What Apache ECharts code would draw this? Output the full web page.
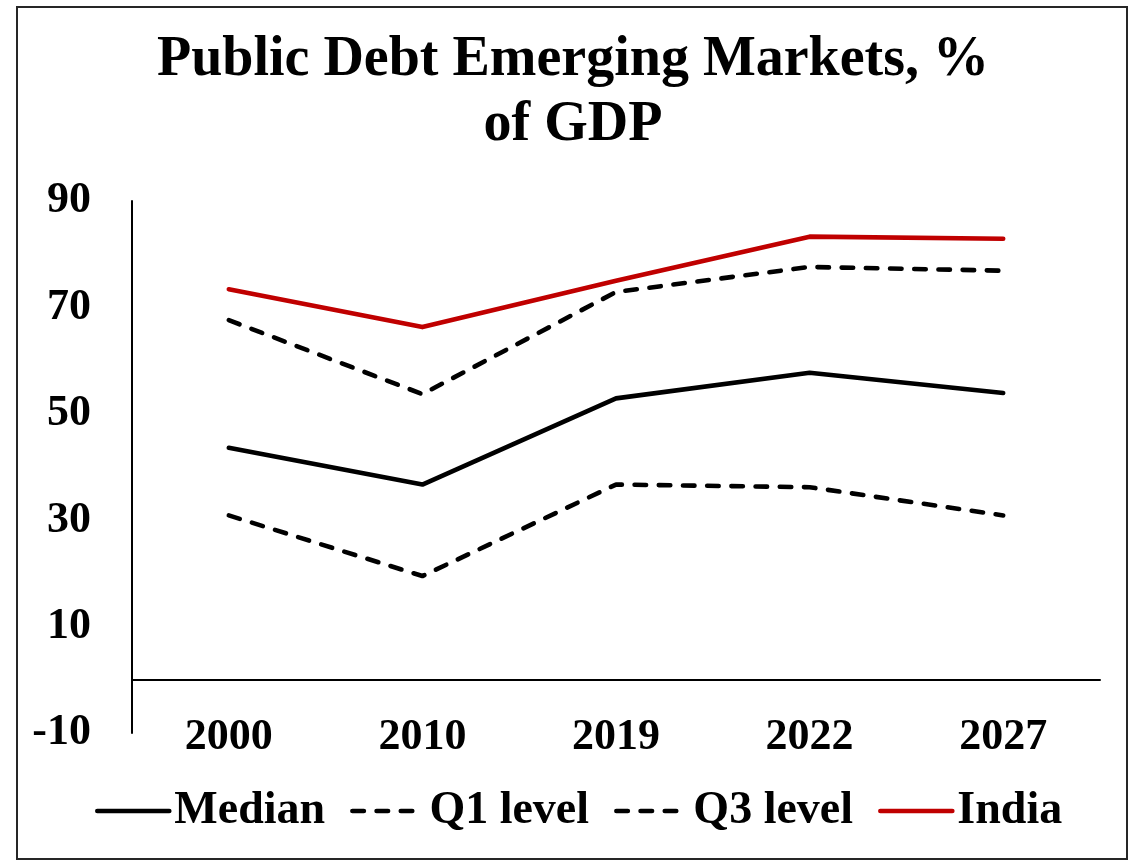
<!DOCTYPE html>
<html>
<head>
<meta charset="utf-8">
<script src="https://cdn.jsdelivr.net/npm/echarts@6/dist/echarts.min.js"></script>
<style>
  html, body { margin: 0; padding: 0; background: #ffffff; }
  #chart { width: 1137px; height: 861px; }
</style>
</head>
<body>
<div id="chart"></div>
<script>
// Public debt of emerging markets, % of GDP
const years = ['2000', '2010', '2019', '2022', '2027'];
const median = [43.6, 36.7, 52.9, 57.7, 53.9];
const q1Level = [30.9, 19.5, 36.7, 36.2, 30.9];
const q3Level = [67.6, 53.7, 72.9, 77.6, 76.9];
const india = [73.4, 66.3, 75.0, 83.3, 82.9];

const serif = '"Liberation Serif", "DejaVu Serif", serif';
const dashPattern = [11.5, 12.7];

function lineSeries(name, data, color, dashed) {
  return {
    name: name,
    type: 'line',
    data: data,
    symbol: 'none',
    silent: true,
    lineStyle: {
      color: color,
      width: 4.6,
      type: dashed ? dashPattern : 'solid',
      cap: 'round',
      join: 'round'
    },
    itemStyle: { color: color }
  };
}

const chart = echarts.init(document.getElementById('chart'), null, { renderer: 'canvas' });

chart.setOption({
  animation: false,
  backgroundColor: '#ffffff',
  title: {
    text: 'Public Debt Emerging Markets, %\nof GDP',
    left: 573,
    top: 28,
    padding: 0,
    textAlign: 'center',
    textStyle: {
      fontFamily: serif,
      fontWeight: 'bold',
      fontSize: 56,
      lineHeight: 65,
      color: '#000000'
    }
  },
  graphic: [{
    type: 'rect',
    silent: true,
    shape: { x: 17, y: 7, width: 1110, height: 852 },
    style: { fill: 'none', stroke: '#262626', lineWidth: 2 }
  }],
  legend: {
    data: ['Median', 'Q1 level', 'Q3 level', 'India'],
    left: 95,
    top: 788,
    padding: 0,
    itemWidth: 72,
    itemHeight: 14,
    itemGap: 25,
    // line-only keys: hide the marker dot, keep the full stroke width
    itemStyle: { opacity: 0 },
    lineStyle: { width: 4.6, cap: 'round' },
    textStyle: {
      fontFamily: serif,
      fontWeight: 'bold',
      fontSize: 46,
      lineHeight: 46,
      color: '#000000'
    }
  },
  grid: {
    left: 132,
    right: 37,
    top: 201,
    bottom: 128,
    containLabel: false
  },
  xAxis: {
    type: 'category',
    data: years,
    boundaryGap: true,
    axisLine: { onZero: true, lineStyle: { color: '#000000', width: 2 } },
    axisTick: { show: false },
    axisLabel: {
      margin: -17,
      fontFamily: serif,
      fontWeight: 'bold',
      fontSize: 44,
      color: '#000000'
    },
    splitLine: { show: false }
  },
  yAxis: {
    type: 'value',
    min: -10,
    max: 90,
    interval: 20,
    axisLine: { show: true, lineStyle: { color: '#000000', width: 2 } },
    axisTick: { show: false },
    axisLabel: {
      margin: 41,
      padding: [6, 0, 0, 0],
      fontFamily: serif,
      fontWeight: 'bold',
      fontSize: 44,
      color: '#000000'
    },
    splitLine: { show: false }
  },
  series: [
    lineSeries('Median', median, '#000000', false),
    lineSeries('Q1 level', q1Level, '#000000', true),
    lineSeries('Q3 level', q3Level, '#000000', true),
    lineSeries('India', india, '#C00000', false)
  ]
});
</script>
</body>
</html>
